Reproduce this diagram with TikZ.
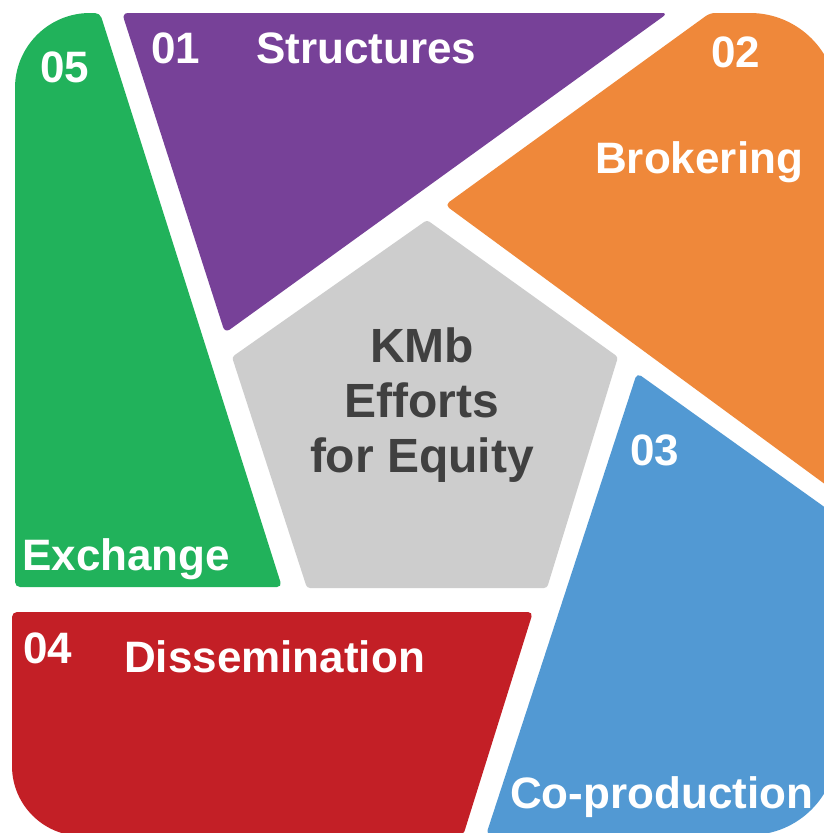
\documentclass[tikz,border=0pt]{standalone}
\usepackage{fontspec}
\setmainfont{Liberation Sans}
\definecolor{cpurple}{RGB}{119,65,152}
\definecolor{corange}{RGB}{239,136,58}
\definecolor{cgreen}{RGB}{33,178,91}
\definecolor{cblue}{RGB}{82,153,211}
\definecolor{cred}{RGB}{195,31,38}
\definecolor{cgray}{RGB}{205,205,205}
\definecolor{ctext}{RGB}{64,64,64}
\begin{document}
\begin{tikzpicture}[x=1pt,y=-1pt,
  lbl/.style={text=white,font=\fontsize{44}{50}\selectfont\bfseries,anchor=base west,inner sep=0pt},
  ctr/.style={text=ctext,font=\fontsize{48}{55}\selectfont\bfseries,align=center,inner sep=0pt}]
\useasboundingbox (0,0) rectangle (824,833);
\clip (0,0) rectangle (824,833);
\fill[white] (0,0) rectangle (824,833);
% 05 green
\fill[cgreen] (15,587) [rounded corners=75pt] -- (15,13) [rounded corners=5pt] -- (100,13) -- (282,587) -- cycle;
% 01 purple
\fill[cpurple,rounded corners=6pt] (122,13) -- (668,13) -- (225,333) -- cycle;
% 02 orange
\fill[corange] (445,205) [rounded corners=5pt] -- (710,13) [rounded corners=87pt] -- (837,13) [rounded corners=5pt] -- (837,493) -- cycle;
% 03 blue
\fill[cblue] (637,373) [rounded corners=5pt] -- (837,516) [rounded corners=87pt] -- (837,835) [rounded corners=5pt] -- (486,835) -- cycle;
% 04 red
\fill[cred] (12,612) [rounded corners=5pt] -- (533,612) -- (463,836) [rounded corners=70pt] -- (12,836) [rounded corners=5pt] -- cycle;
% centre
\fill[cgray,rounded corners=3pt] (427,220) -- (618,357) -- (547,588) -- (307,588) -- (232,357) -- cycle;
\node[ctr] (centre) at (422,405) {KMb\\Efforts\\for Equity};
% labels
\node[lbl] (n01) at (151,63) {01};
\node[lbl] (t01) at (256,63) {Structures};
\node[lbl] (n02) at (711,67) {02};
\node[lbl] (t02) at (595,173) {Brokering};
\node[lbl] (n03) at (630,465) {03};
\node[lbl] (n05) at (40,82) {05};
\node[lbl] (t05) at (22,570) {Exchange};
\node[lbl] (n04) at (23,663) {04};
\node[lbl] (t04) at (124,672) {Dissemination};
\node[lbl] (t03) at (510,808) {Co-production};
\end{tikzpicture}
\end{document}
